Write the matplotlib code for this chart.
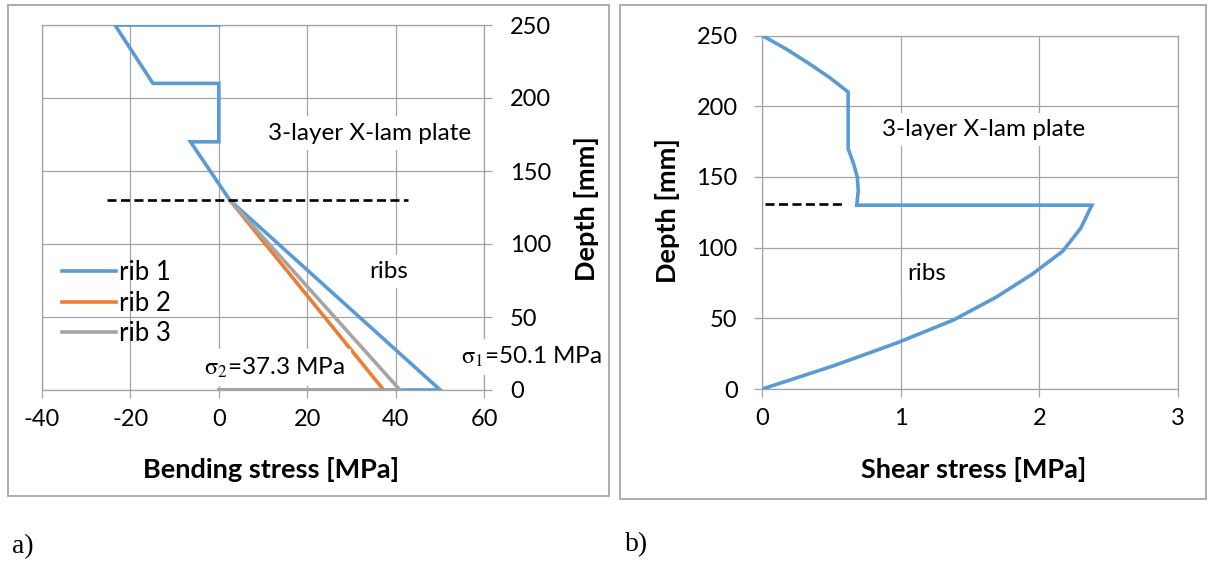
import matplotlib
matplotlib.use('Agg')
import matplotlib.pyplot as plt
from matplotlib.patches import Rectangle

plt.rcParams['font.family'] = ['Lato', 'DejaVu Sans']
plt.rcParams['mathtext.fontset'] = 'stix'
plt.rcParams['lines.scale_dashes'] = False
plt.rcParams['axes.unicode_minus'] = False

# ---------------- data ----------------
# (a) bending stress [MPa] vs depth [mm]
rib1_depth = [250, 250, 210, 210, 170, 170, 130, 0, 0]
rib1_stress = [0, -23.5, -14.9, 0, 0, -6.4, 2.5, 50.1, 0]
rib2_depth = [130, 0, 0]
rib2_stress = [2.5, 37.3, 0]
rib3_depth = [130, 0, 0]
rib3_stress = [2.5, 41.0, 0]
series_names = ['rib 1', 'rib 2', 'rib 3']
bend_xticks = [-40, -20, 0, 20, 40, 60]
depth_ticks = [0, 50, 100, 150, 200, 250]
interface_depth = 130
bend_dash_x = [-25.3, 42.7]

# (b) shear stress [MPa] vs depth [mm]
shear_depth = [250, 240, 230, 220, 210, 170, 160, 150, 140, 130, 130,
               113.75, 97.5, 81.25, 65, 48.75, 32.5, 16.25, 0]
shear_stress = [0, 0.18, 0.34, 0.49, 0.62, 0.62, 0.657, 0.686, 0.693, 0.682, 2.38,
                2.30, 2.17, 1.95, 1.69, 1.38, 0.97, 0.51, 0]
shear_xticks = [0, 1, 2, 3]
shear_dash_x = [0.02, 0.58]
shear_dash_depth = 131

# ---------------- style ----------------
FS_TICK = 17
FS_TEXT = 17.5
FS_LABEL = 19.5
FS_LEG = 18.5
GRID = '#a3a3a3'
BLUE, ORANGE, GRAY = '#5b9bd5', '#ed7d31', '#a5a5a5'
LW = 2.6
W, H = 1210, 562

fig = plt.figure(figsize=(W / 100, H / 100), dpi=100)
fig.patch.set_facecolor('white')

# panel frames
for (x0, y0, x1, y1) in [(8, 5, 609, 496), (620, 5, 1206, 499)]:
    fig.add_artist(Rectangle((x0 / W, 1 - y1 / H), (x1 - x0) / W, (y1 - y0) / H,
                             transform=fig.transFigure, fill=False,
                             edgecolor='#a6a6a6', lw=1.3, zorder=-1))

ax1 = fig.add_axes([42 / W, 1 - 390 / H, 442 / W, 365 / H])
ax2 = fig.add_axes([762.3 / W, 1 - 389 / H, 415.4 / W, 353.5 / H])

for ax in (ax1, ax2):
    ax.set_facecolor('none')
    ax.set_axisbelow(True)
    ax.grid(True, color=GRID, lw=0.9)
    for s in ax.spines.values():
        s.set_color(GRID)
        s.set_linewidth(0.9)
    ax.tick_params(direction='out', length=5.8, width=0.9, color=GRID,
                   labelsize=FS_TICK, labelcolor='black')

box = dict(boxstyle='square,pad=0.25', facecolor='white', edgecolor='none')

# ---- panel a ----
ax1.plot(rib1_stress, rib1_depth, color=BLUE, lw=LW, label=series_names[0],
         solid_joinstyle='miter', zorder=3)
ax1.plot(rib2_stress, rib2_depth, color=ORANGE, lw=LW, label=series_names[1],
         solid_joinstyle='miter', zorder=3)
ax1.plot(rib3_stress, rib3_depth, color=GRAY, lw=LW, label=series_names[2],
         solid_joinstyle='miter', zorder=3)
dl, = ax1.plot(bend_dash_x, [interface_depth] * 2, color='black', lw=1.9, zorder=3)
dl.set_dashes((6.5, 3.2))
ax1.set_xlim(-40, 60)
ax1.set_ylim(0, 250)
ax1.set_xticks(bend_xticks)
ax1.set_yticks(depth_ticks)
ax1.yaxis.tick_right()
ax1.yaxis.set_label_position('right')
ax1.tick_params(axis='x', pad=8)
ax1.tick_params(axis='y', pad=13)
ax1.set_xlabel('Bending stress [MPa]', fontsize=FS_LABEL, fontweight='bold')
ax1.set_ylabel('Depth [mm]', fontsize=FS_LABEL, fontweight='bold')
ax1.xaxis.set_label_coords(0.518, -0.219)
ax1.yaxis.set_label_coords(1.233, 0.497)
ax1.xaxis.label.set_va('center')
ax1.yaxis.label.set(va='center', ha='center')

ax1.text(34.2, 176, '3-layer X-lam plate', fontsize=FS_TEXT, ha='center', va='center',
         bbox=box, zorder=5)
ax1.text(38.5, 81, 'ribs', fontsize=FS_TEXT, ha='center', va='center', bbox=box, zorder=5)
ax1.text(12.5, 15.5, r'$\mathrm{\sigma}_\mathrm{2}$=37.3 MPa', fontsize=FS_TEXT,
         ha='center', va='center', bbox=box, zorder=5)
ax1.text(70.7, 22.5, r'$\mathrm{\sigma}_\mathrm{1}$=50.1 MPa', fontsize=FS_TEXT,
         ha='center', va='center', bbox=box, zorder=5, clip_on=False)

ax1.legend(loc='upper left', bbox_to_anchor=(0.045, 0.355), frameon=False,
           fontsize=FS_LEG, handlelength=2.1, handletextpad=0.12, labelspacing=0.2,
           borderpad=0, borderaxespad=0)

# ---- panel b ----
ax2.plot(shear_stress, shear_depth, color=BLUE, lw=LW, solid_joinstyle='miter', zorder=3)
dl2, = ax2.plot(shear_dash_x, [shear_dash_depth] * 2, color='black', lw=1.9, zorder=3)
dl2.set_dashes((6.5, 3.2))
ax2.set_xlim(0, 3)
ax2.set_ylim(0, 250)
ax2.set_xticks(shear_xticks)
ax2.set_yticks(depth_ticks)
ax2.tick_params(axis='x', pad=8)
ax2.tick_params(axis='y', pad=12)
ax2.set_xlabel('Shear stress [MPa]', fontsize=FS_LABEL, fontweight='bold')
ax2.set_ylabel('Depth [mm]', fontsize=FS_LABEL, fontweight='bold')
ax2.xaxis.set_label_coords(0.5096, -0.229)
ax2.yaxis.set_label_coords(-0.2294, 0.506)
ax2.xaxis.label.set_va('center')
ax2.yaxis.label.set(va='center', ha='center')
ax2.text(1.60, 183.4, '3-layer X-lam plate', fontsize=FS_TEXT, ha='center', va='center',
         bbox=box, zorder=5)
ax2.text(1.19, 82, 'ribs', fontsize=FS_TEXT, ha='center', va='center', bbox=box, zorder=5)

# panel captions
fig.text(12 / W, 1 - 547 / H, 'a)', fontsize=20, family='Liberation Serif',
         ha='left', va='center')
fig.text(625 / W, 1 - 545 / H, 'b)', fontsize=20, family='Liberation Serif',
         ha='left', va='center')

fig.savefig('out.png', dpi=100)
